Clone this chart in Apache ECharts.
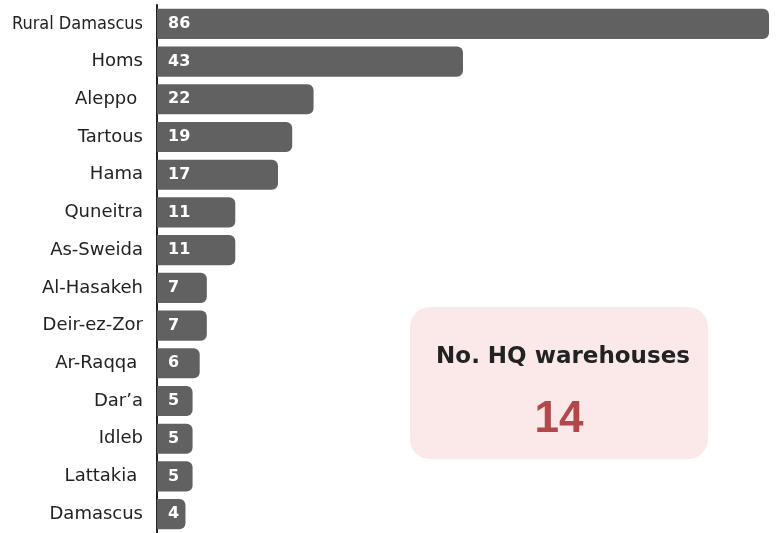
<!DOCTYPE html>
<html>
<head>
<meta charset="utf-8">
<script src="https://cdn.jsdelivr.net/npm/echarts@6/dist/echarts.min.js"></script>
<style>
  html, body { margin: 0; padding: 0; background: #fff; }
  #chart { width: 779px; height: 533px; }
</style>
</head>
<body>
<div id="chart"></div>
<script>
// Governorates, top to bottom
const governorates = [
  'Rural Damascus', 'Homs', 'Aleppo ', 'Tartous', 'Hama', 'Quneitra', 'As-Sweida',
  'Al-Hasakeh', 'Deir-ez-Zor', 'Ar-Raqqa ', "Dar\u2019a", 'Idleb', 'Lattakia ', 'Damascus'
];
// Number of warehouses per governorate
const warehouses = [86, 43, 22, 19, 17, 11, 11, 7, 7, 6, 5, 5, 5, 4];
// Headline figure
const hqTitle = 'No. HQ warehouses';
const hqCount = 14;

const FONT = '"DejaVu Sans", sans-serif';
const NARROW = '"DejaVu Sans Condensed", "Liberation Sans Narrow", "Roboto", sans-serif';
const chart = echarts.init(document.getElementById('chart'));

chart.setOption({
  animation: false,
  grid: { left: 157, right: 10, top: 5, bottom: 0 },
  xAxis: {
    type: 'value',
    min: 0,
    max: 86,
    show: false
  },
  yAxis: {
    type: 'category',
    inverse: true,
    data: governorates,
    axisLine: { show: true, lineStyle: { color: '#222', width: 2 } },
    axisTick: { show: false },
    axisLabel: {
      margin: 14,
      color: '#222',
      fontFamily: FONT,
      fontSize: 18,
      // the longest name is set in a narrower face so it fits the margin
      formatter: function (name) {
        return name.length > 12 ? '{tight|' + name + '}' : name;
      },
      rich: {
        tight: { fontFamily: NARROW, fontSize: 18, color: '#222' }
      }
    }
  },
  series: [{
    type: 'bar',
    data: warehouses,
    barCategoryGap: '20%',
    itemStyle: { color: '#616161', borderRadius: [0, 6, 6, 0] },
    label: {
      show: true,
      position: 'insideLeft',
      distance: 11,
      color: '#fff',
      fontFamily: FONT,
      fontWeight: 'bold',
      fontSize: 16
    }
  }],
  graphic: [{
    type: 'group',
    left: 410,
    top: 307,
    children: [{
      type: 'rect',
      shape: { x: 0, y: 0, width: 298, height: 152, r: 20 },
      style: { fill: '#fbe9ea' }
    }, {
      type: 'text',
      x: 153,
      y: 50,
      style: {
        text: hqTitle,
        align: 'center',
        verticalAlign: 'middle',
        fill: '#222',
        font: 'bold 23px ' + FONT
      }
    }, {
      type: 'text',
      x: 149,
      y: 113,
      style: {
        text: String(hqCount),
        align: 'center',
        verticalAlign: 'middle',
        fill: '#b3474a',
        font: 'bold 44px "Liberation Sans", sans-serif'
      }
    }]
  }]
});
</script>
</body>
</html>
